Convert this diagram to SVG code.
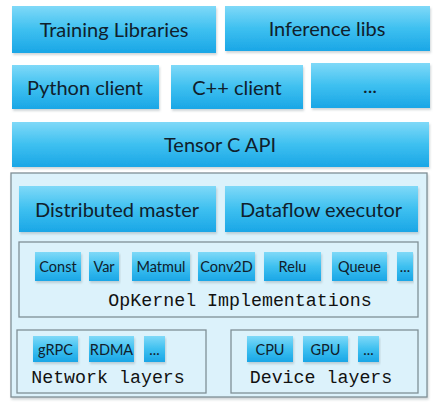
<svg xmlns="http://www.w3.org/2000/svg" width="433" height="417" viewBox="0 0 433 417">
<defs>
<linearGradient id="g" x1="0" y1="0" x2="0" y2="1">
<stop offset="0" stop-color="#7fd9f8"/>
<stop offset="0.5" stop-color="#3ec0f0"/>
<stop offset="1" stop-color="#1aa6e6"/>
</linearGradient>
<filter id="sh" x="-5%" y="-5%" width="110%" height="120%">
<feDropShadow dx="1" dy="2" stdDeviation="1" flood-color="#7a8a90" flood-opacity="0.35"/>
</filter>
</defs>
<style>
.b{fill:url(#g);filter:url(#sh)}
.c{fill:#dcf2fb;stroke:#7f8f96;stroke-width:1.3}
.t{font-family:Lato,"Open Sans",sans-serif;font-size:20px;fill:#10202c;text-anchor:middle;dominant-baseline:central}
.s{font-family:Lato,"Open Sans",sans-serif;font-size:14.5px;fill:#10202c;text-anchor:middle;dominant-baseline:central}
.m{font-family:"Liberation Mono",monospace;font-size:18.3px;fill:#111;text-anchor:middle}
</style>
<rect width="433" height="417" fill="#fff"/>
<g id="training"><rect class="b" x="12" y="6" width="204" height="47"/><text class="t" x="114" y="29">Training Libraries</text></g>
<g id="inference"><rect class="b" x="225" y="6" width="205" height="45"/><text class="t" x="327" y="28">Inference libs</text></g>
<g id="python"><rect class="b" x="12" y="65" width="147" height="44"/><text class="t" x="85" y="87">Python client</text></g>
<g id="cpp"><rect class="b" x="171" y="65" width="132" height="44"/><text class="t" x="237" y="87">C++ client</text></g>
<g id="more-clients"><rect class="b" x="311" y="63" width="119" height="45"/><text class="t" x="370" y="85">...</text></g>
<g id="capi"><rect class="b" x="12" y="122" width="417" height="45"/><text class="t" x="220" y="144">Tensor C API</text></g>
<g id="core">
<rect class="c" x="11" y="173" width="416" height="224" filter="url(#sh)"/>
<g id="master"><rect class="b" x="19" y="186" width="197" height="46"/><text class="t" x="117" y="209">Distributed master</text></g>
<g id="executor"><rect class="b" x="225" y="186" width="193" height="46"/><text class="t" x="321" y="209">Dataflow executor</text></g>
<g id="opkernel">
<rect class="c" x="19" y="242" width="399" height="75"/>
<g id="const"><rect class="b" x="35" y="252" width="46" height="29"/><text class="s" x="58" y="266">Const</text></g>
<g id="var"><rect class="b" x="89" y="252" width="30" height="29"/><text class="s" x="104" y="266">Var</text></g>
<g id="matmul"><rect class="b" x="132" y="252" width="58" height="29"/><text class="s" x="161" y="266">Matmul</text></g>
<g id="conv2d"><rect class="b" x="198" y="252" width="57" height="29"/><text class="s" x="226.5" y="266">Conv2D</text></g>
<g id="relu"><rect class="b" x="264" y="252" width="57" height="29"/><text class="s" x="292.5" y="266">Relu</text></g>
<g id="queue"><rect class="b" x="332" y="252" width="55" height="29"/><text class="s" x="359.5" y="266">Queue</text></g>
<g id="more-ops"><rect class="b" x="397" y="252" width="16" height="29"/><text class="s" x="405" y="266">...</text></g>
<text class="m" x="240" y="306">OpKernel Implementations</text>
</g>
<g id="network">
<rect class="c" x="17" y="330" width="189" height="63"/>
<g id="grpc"><rect class="b" x="33" y="336" width="45" height="26"/><text class="s" x="55.5" y="349">gRPC</text></g>
<g id="rdma"><rect class="b" x="89" y="336" width="45" height="26"/><text class="s" x="111.5" y="349">RDMA</text></g>
<g id="more-net"><rect class="b" x="144" y="336" width="21" height="26"/><text class="s" x="154.5" y="349">...</text></g>
<text class="m" x="108" y="383">Network layers</text>
</g>
<g id="device">
<rect class="c" x="231" y="330" width="187" height="63"/>
<g id="cpu"><rect class="b" x="247" y="336" width="46" height="26"/><text class="s" x="270" y="349">CPU</text></g>
<g id="gpu"><rect class="b" x="303" y="336" width="45" height="26"/><text class="s" x="325.5" y="349">GPU</text></g>
<g id="more-dev"><rect class="b" x="358" y="336" width="21" height="26"/><text class="s" x="368.5" y="349">...</text></g>
<text class="m" x="321" y="383">Device layers</text>
</g>
</g>
<g id="connectors"/>
</svg>
